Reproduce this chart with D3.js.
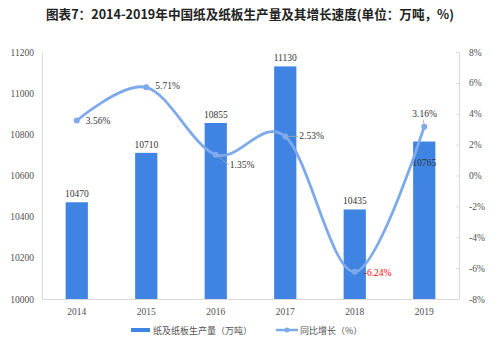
<!DOCTYPE html>
<html lang="zh">
<head>
<meta charset="UTF-8">
<title>2014-2019年中国纸及纸板生产量及其增长速度</title>
<script src="https://d3js.org/d3.v7.min.js"></script>
<style>
  body { margin: 0; background: #fff; }
  .lbl { font-family: "Liberation Serif", serif; font-size: 9.5px; fill: #333; }
  .legend text { font-family: "Noto Sans CJK SC", sans-serif; font-size: 9px; fill: #555; }
</style>
</head>
<body>
<svg width="500" height="353"></svg>
<script>
  // 数据
  const years = ["2014", "2015", "2016", "2017", "2018", "2019"];
  const output = [10470, 10710, 10855, 11130, 10435, 10765];
  const growth = [3.56, 5.71, 1.35, 2.53, -6.24, 3.16];
  const leftTicks = [10000, 10200, 10400, 10600, 10800, 11000, 11200];
  const rightTicks = [-8, -6, -4, -2, 0, 2, 4, 6, 8];

  const barColor = "#3f84e3";
  const lineColor = "#7eaaec";

  const margin = {top: 52, right: 41, bottom: 54, left: 42},
        width = 500 - margin.left - margin.right,
        height = 353 - margin.top - margin.bottom;

  const svg = d3.select("svg");

  // 标题
  svg.append("text")
    .attr("x", 250)
    .attr("y", 19)
    .attr("text-anchor", "middle")
    .style("font-family", "'Noto Sans CJK SC', sans-serif")
    .style("font-weight", "bold")
    .style("font-size", "12.6px")
    .style("fill", "#222")
    .text("图表7：2014-2019年中国纸及纸板生产量及其增长速度(单位：万吨，%)");

  const g = svg.append("g")
    .attr("transform", `translate(${margin.left},${margin.top})`);

  const x = d3.scaleBand().domain(years).range([0, width]).paddingInner(0.68).paddingOuter(0.34);
  const y = d3.scaleLinear().domain([10000, 11200]).range([height, 0]);
  const y2 = d3.scaleLinear().domain([-8, 8]).range([height, 0]);

  // 坐标轴
  const axL = g.append("g")
    .call(d3.axisLeft(y).tickValues(leftTicks).tickSize(0).tickPadding(8).tickFormat(d3.format("d")));
  const axR = g.append("g")
    .attr("transform", `translate(${width},0)`)
    .call(d3.axisRight(y2).tickValues(rightTicks).tickSizeInner(-3).tickSizeOuter(0).tickPadding(10).tickFormat(d => d + "%"));
  const axB = g.append("g")
    .attr("transform", `translate(0,${height})`)
    .call(d3.axisBottom(x).tickSize(0).tickPadding(9));
  [axL, axR, axB].forEach(a => {
    a.select(".domain").attr("stroke", "#d9d9d9");
    a.selectAll(".tick line").attr("stroke", "#d9d9d9");
    a.selectAll(".tick text")
      .attr("fill", "#505050")
      .style("font-family", "'Liberation Serif', serif")
      .style("font-size", "9.5px");
  });

  // 柱
  g.selectAll(".bar")
    .data(output)
    .enter().append("rect")
    .attr("x", (d, i) => x(years[i]))
    .attr("y", d => y(d))
    .attr("width", x.bandwidth())
    .attr("height", d => height - y(d))
    .attr("fill", barColor);

  // 柱标签 (2019 的标签在柱内)
  const barLblDy = [-5, -5, -5, -5, -5, 24];
  g.selectAll(".blbl")
    .data(output)
    .enter().append("text")
    .attr("class", "lbl")
    .attr("x", (d, i) => x(years[i]) + x.bandwidth() / 2)
    .attr("y", (d, i) => y(d) + barLblDy[i])
    .attr("text-anchor", "middle")
    .text(d => d);

  // 折线
  const cx = i => x(years[i]) + x.bandwidth() / 2;
  const line = d3.line()
    .x((d, i) => cx(i))
    .y(d => y2(d))
    .curve(d3.curveCardinal.tension(0));

  g.append("path")
    .datum(growth)
    .attr("fill", "none")
    .attr("stroke", lineColor)
    .attr("stroke-width", 2.8)
    .attr("d", line);

  g.selectAll(".pt")
    .data(growth)
    .enter().append("circle")
    .attr("cx", (d, i) => cx(i))
    .attr("cy", d => y2(d))
    .attr("r", 3)
    .attr("fill", lineColor);

  // 折线标签偏移 [dx, dy]
  const lblOff = [[9, 3], [9, 2], [14, 13], [14, 3], [9, 4], [-12, -10]];
  const leader = [false, false, true, true, false, true];
  growth.forEach((d, i) => {
    const px = cx(i), py = y2(d);
    const lx = px + lblOff[i][0], ly = py + lblOff[i][1];
    if (leader[i]) {
      g.append("line")
        .attr("x1", px).attr("y1", py)
        .attr("x2", i === 5 ? px - 1 : lx - 1)
        .attr("y2", i === 5 ? ly + 3 : ly - 3)
        .attr("stroke", "#a6a6a6")
        .attr("stroke-width", 0.8);
    }
    g.append("text")
      .attr("class", "lbl")
      .attr("x", lx)
      .attr("y", ly)
      .style("fill", d < 0 ? "#ff0000" : "#333")
      .text(d.toFixed(2) + "%");
  });

  // 图例
  const legend = svg.append("g").attr("class", "legend");
  legend.append("rect")
    .attr("x", 131).attr("y", 328).attr("width", 19).attr("height", 4)
    .attr("fill", barColor);
  legend.append("text")
    .attr("x", 153).attr("y", 333.5)
    .text("纸及纸板生产量（万吨）");
  legend.append("line")
    .attr("x1", 276).attr("x2", 298).attr("y1", 330).attr("y2", 330)
    .attr("stroke", lineColor).attr("stroke-width", 2.5);
  legend.append("circle")
    .attr("cx", 287).attr("cy", 330).attr("r", 2.5).attr("fill", lineColor);
  legend.append("text")
    .attr("x", 300).attr("y", 333.5)
    .text("同比增长（%）");
</script>
</body>
</html>
